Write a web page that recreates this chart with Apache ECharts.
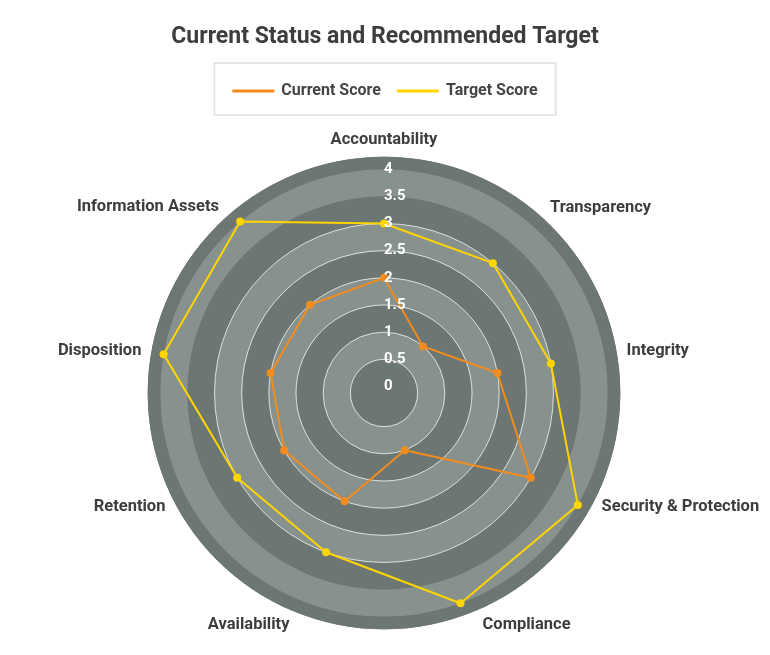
<!DOCTYPE html>
<html><head><meta charset="utf-8">
<script src="https://cdn.jsdelivr.net/npm/echarts@6/dist/echarts.min.js"></script>
<style>html,body{margin:0;padding:0;background:#fff}#c{width:770px;height:655px}</style>
</head><body><div id="c"></div>
<script>
// ---- data ----
const categories = ['Accountability','Transparency','Integrity','Security & Protection','Compliance','Availability','Retention','Disposition','Information Assets'];
const currentScore = [2,1,2,3,1,2,2,2,2];
const targetScore  = [3,3,3,4,4,3,3,4,4];
const tickLabels = ['0','0.5','1','1.5','2','2.5','3','3.5','4'];
const seriesNames = ['Current Score','Target Score'];

// ---- style ----
const ORANGE = '#F28C1E', YELLOW = '#FFD500';
const DARK = '#6c7672', LIGHT = '#87928e';
const FONT = 'Roboto';
const AX_MIN = -0.12, AX_MAX = 4.23;
const CENTER = [384, 393], RADIUS = 236.3;
const T = 'rgba(0,0,0,0)', W = 'rgba(255,255,255,0.75)';

// radar lays indicators counter-clockwise; reorder so they run clockwise
const order = [0, 8, 7, 6, 5, 4, 3, 2, 1];
const indicator = order.map(i => ({ name: categories[i], min: AX_MIN, max: AX_MAX }));
const cur = order.map(i => currentScore[i]);
const tgt = order.map(i => targetScore[i]);

const namePad = {
  'Accountability': [0,0,0,0],
  'Transparency': [5,0,0,9],
  'Integrity': [0,0,0,2],
  'Security & Protection': [0,0,16,6],
  'Compliance': [5,0,0,15],
  'Availability': [5,11,0,0],
  'Retention': [0,7,16,0],
  'Disposition': [0,2,0,0],
  'Information Assets': [3,8,0,0]
};
const rich = {};
categories.forEach((c, i) => { rich['n' + i] = { padding: namePad[c] }; });

const baseRadius = {
  type: 'value', min: AX_MIN, max: AX_MAX, splitNumber: 9,
  axisLine: { show: false }, axisTick: { show: false },
  axisLabel: { show: false }, splitLine: { show: false }, splitArea: { show: false }
};

const chart = echarts.init(document.getElementById('c'), null, { renderer: 'canvas' });
chart.setOption({
  animation: false,
  backgroundColor: '#fff',
  title: {
    text: 'Current Status and Recommended Target',
    left: 'center', top: 21,
    textStyle: { fontFamily: FONT, fontSize: 23, fontWeight: 'bold', color: '#3d3d40' }
  },
  legend: {
    data: seriesNames,
    top: 63, left: 'center',
    padding: [20, 18, 16, 18],
    borderColor: '#e6e6e6', borderWidth: 2,
    itemWidth: 42, itemHeight: 3, itemGap: 16, icon: 'rect',
    textStyle: { fontFamily: FONT, fontSize: 16, fontWeight: 'bold', color: '#444', padding: [0,0,0,2] }
  },
  polar: [
    { center: CENTER, radius: RADIUS },
    { center: CENTER, radius: RADIUS },
    { center: CENTER, radius: RADIUS }
  ],
  angleAxis: [
    { polarIndex: 0, type: 'value', min: 0, max: 360, startAngle: 90, show: false },
    { polarIndex: 1, type: 'value', min: 0, max: 360, startAngle: 90, show: false },
    { polarIndex: 2, type: 'value', min: 0, max: 360, startAngle: 90, show: false }
  ],
  radiusAxis: [
    Object.assign({}, baseRadius, {
      polarIndex: 0, z: 1,
      splitArea: { show: true, areaStyle: { color: [DARK, DARK, LIGHT, DARK, LIGHT, DARK, LIGHT, DARK, LIGHT, DARK] } }
    }),
    Object.assign({}, baseRadius, {
      polarIndex: 1, z: 2,
      splitLine: { show: true, lineStyle: { width: 1, color: [T, T, W, W, W, W, W, W, T, T, T] } }
    }),
    Object.assign({}, baseRadius, {
      polarIndex: 2, z: 5,
      axisLabel: {
        show: true, showMinLabel: false, showMaxLabel: false,
        margin: 0, align: 'left', verticalAlign: 'middle',
        padding: [0, 0, 6, 0],
        color: '#fff', fontFamily: FONT, fontSize: 15, fontWeight: 'bold',
        formatter: v => { const s = String(+(+v).toFixed(2)); return tickLabels.indexOf(s) >= 0 ? s : ''; }
      }
    })
  ],
  radar: {
    center: CENTER, radius: RADIUS, shape: 'circle', startAngle: 90, z: 0,
    splitNumber: 1,
    indicator: indicator,
    axisNameGap: 8,
    axisName: {
      color: '#3d3d40', fontFamily: FONT, fontSize: 16.5, fontWeight: 'bold',
      formatter: (name) => '{n' + categories.indexOf(name) + '|' + name + '}',
      rich: rich
    },
    splitLine: { show: false },
    splitArea: { show: true, areaStyle: { color: [DARK] } },
    axisLine: { show: false }, axisTick: { show: false }, axisLabel: { show: false }
  },
  series: [{
    type: 'radar', symbol: 'circle', symbolSize: 8, z: 3,
    data: [
      { name: seriesNames[0], value: cur, itemStyle: { color: ORANGE }, lineStyle: { color: ORANGE, width: 2 } },
      { name: seriesNames[1], value: tgt, itemStyle: { color: YELLOW }, lineStyle: { color: YELLOW, width: 2 } }
    ]
  }]
});
</script></body></html>
